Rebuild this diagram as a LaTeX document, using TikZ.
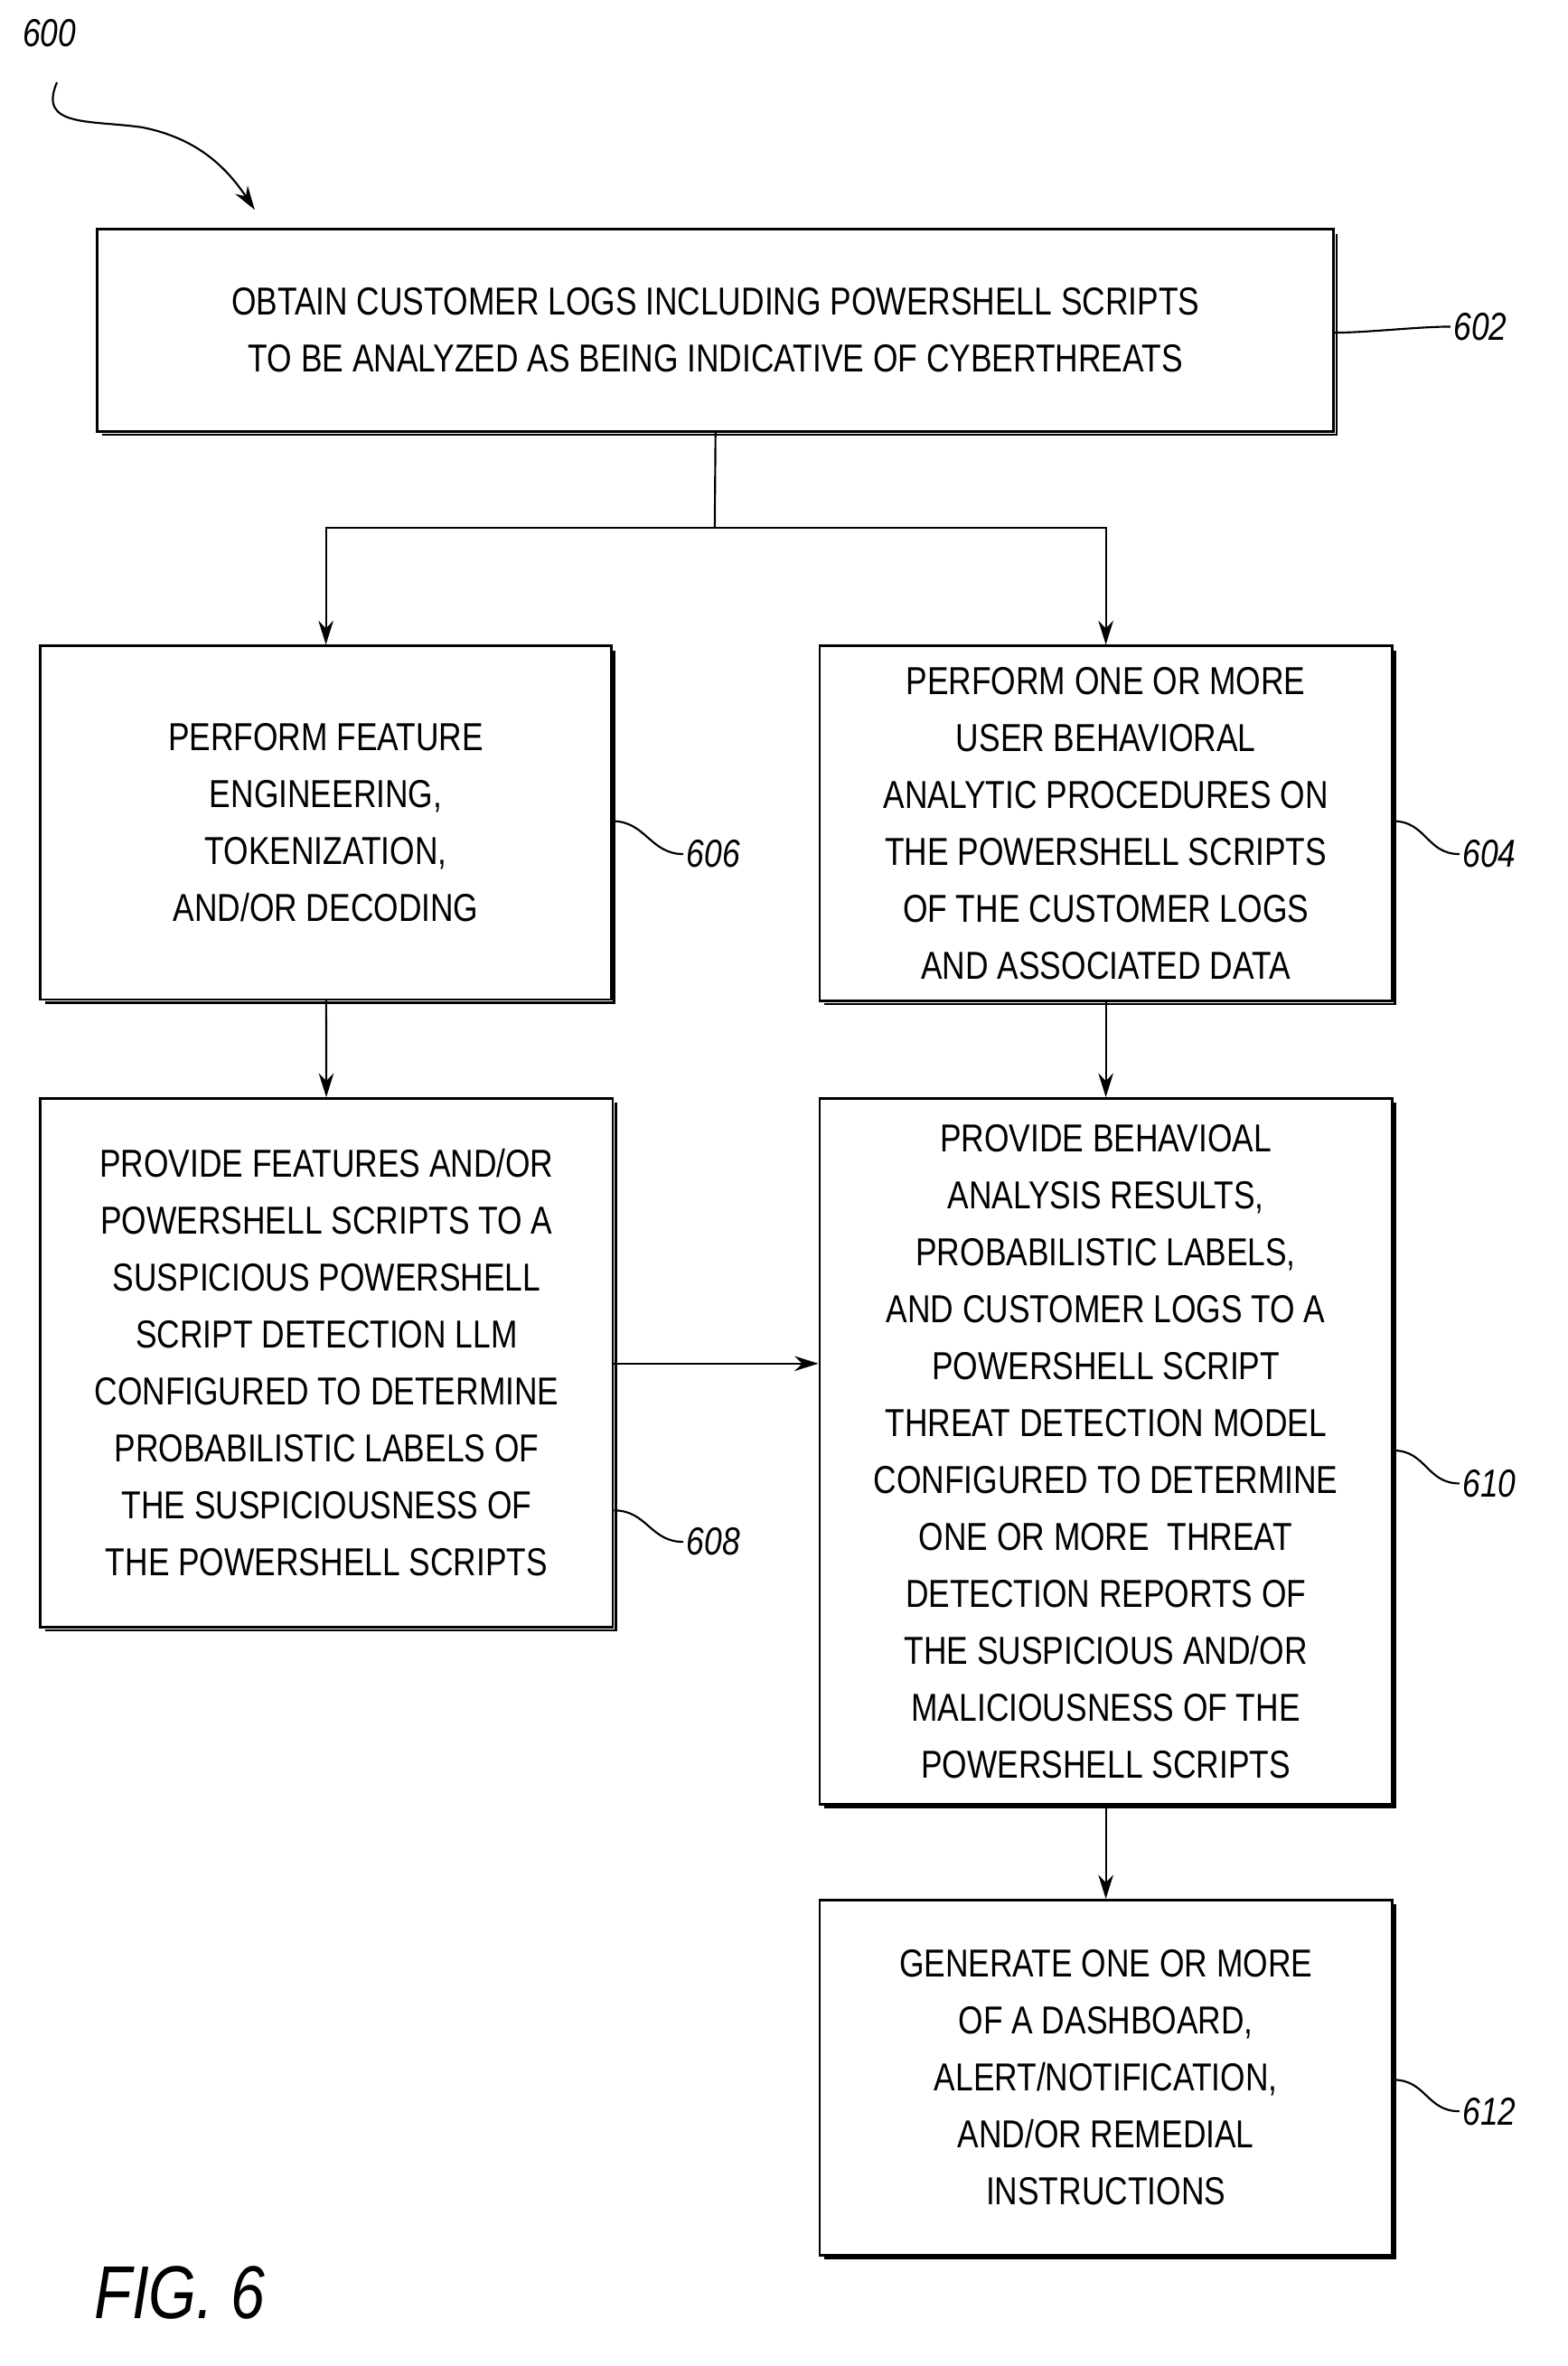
\documentclass[tikz,border=0pt]{standalone}
\usepackage{fontspec}
\setmainfont{Liberation Sans}[FakeStretch=0.82]
\usetikzlibrary{arrows.meta}
\begin{document}
\begin{tikzpicture}[x=1pt,y=-1pt,
 box/.style={draw,line width=1.6pt,align=center,inner sep=0pt,font=\fontsize{26}{38}\selectfont},
 arr/.style={line width=1.3pt,-{Stealth[length=16pt,width=10pt]}},
 lbl/.style={font=\fontsize{26}{30}\selectfont\itshape,anchor=west,inner sep=2pt},
 sq/.style={line width=1.3pt}]
\useasboundingbox (0,0) rectangle (1046,1579);
\def\bx#1#2#3#4#5#6{\node[box,minimum width=#4-#2,minimum height=#5-#3] (#1) at ({(#2+#4)/2},{(#3+#5)/2}) {#6};
 \draw[line width=1.6pt] (#2+3,#5+2) -- (#4+2,#5+2) -- (#4+2,#3+3);}
\bx{b602}{65}{153}{890}{288}{OBTAIN CUSTOMER LOGS INCLUDING POWERSHELL SCRIPTS\\TO BE ANALYZED AS BEING INDICATIVE OF CYBERTHREATS}
\bx{b606}{27}{431}{408}{667}{PERFORM FEATURE\\ENGINEERING,\\TOKENIZATION,\\AND/OR DECODING}
\bx{b604}{547}{431}{929}{668}{PERFORM ONE OR MORE\\USER BEHAVIORAL\\ANALYTIC PROCEDURES ON\\THE POWERSHELL SCRIPTS\\OF THE CUSTOMER LOGS\\AND ASSOCIATED DATA}
\bx{b608}{27}{733}{409}{1086}{PROVIDE FEATURES AND/OR\\POWERSHELL SCRIPTS TO A\\SUSPICIOUS POWERSHELL\\SCRIPT DETECTION LLM\\CONFIGURED TO DETERMINE\\PROBABILISTIC LABELS OF\\THE SUSPICIOUSNESS OF\\THE POWERSHELL SCRIPTS}
\bx{b610}{547}{733}{929}{1204}{PROVIDE BEHAVIOAL\\ANALYSIS RESULTS,\\PROBABILISTIC LABELS,\\AND CUSTOMER LOGS TO A\\POWERSHELL SCRIPT\\THREAT DETECTION MODEL\\CONFIGURED TO DETERMINE\\ONE OR MORE\ \ THREAT\\DETECTION REPORTS OF\\THE SUSPICIOUS AND/OR\\MALICIOUSNESS OF THE\\POWERSHELL SCRIPTS}
\bx{b612}{547}{1268}{929}{1505}{GENERATE ONE OR MORE\\OF A DASHBOARD,\\ALERT/NOTIFICATION,\\AND/OR REMEDIAL\\INSTRUCTIONS}
\coordinate (j) at (477,352);
\draw[line width=1.3pt] (b602.south) -- (j);
\draw[arr] (j) -| (b606.north);
\draw[arr] (j) -| (b604.north);
\draw[arr] (b606) -- (b608);
\draw[arr] (b604) -- (b610);
\draw[arr] (b608.east |- 0,910) -- (b610.west |- 0,910);
\draw[arr] (b610) -- (b612);
% labels
\node[lbl] (l602) at (968,218) {602};
\node[lbl] (l606) at (456,570) {606};
\node[lbl] (l604) at (974,570) {604};
\node[lbl] (l608) at (456,1029) {608};
\node[lbl] (l610) at (974,990) {610};
\node[lbl] (l612) at (974,1409) {612};
\foreach \b/\l/\y in {b602/l602/222,b606/l606/548,b604/l604/548,b608/l608/1008,b610/l610/968,b612/l612/1388}
 \draw[sq] (\b.east |- 0,\y) .. controls +(22,0) and +(-22,0) .. (\l.west);
\node[lbl,anchor=center] (l600) at (33,22) {600};
\coordinate (s600) at (38,55);
\draw[sq,-{Stealth[length=16pt,width=10pt]}] (s600) .. controls (25,85) and (60,80) .. (95,85) .. controls (130,92) and (150,110) .. (170,140);
\node[font=\fontsize{50}{50}\selectfont\itshape] (fig) at (120,1530) {FIG. 6};
\end{tikzpicture}
\end{document}
